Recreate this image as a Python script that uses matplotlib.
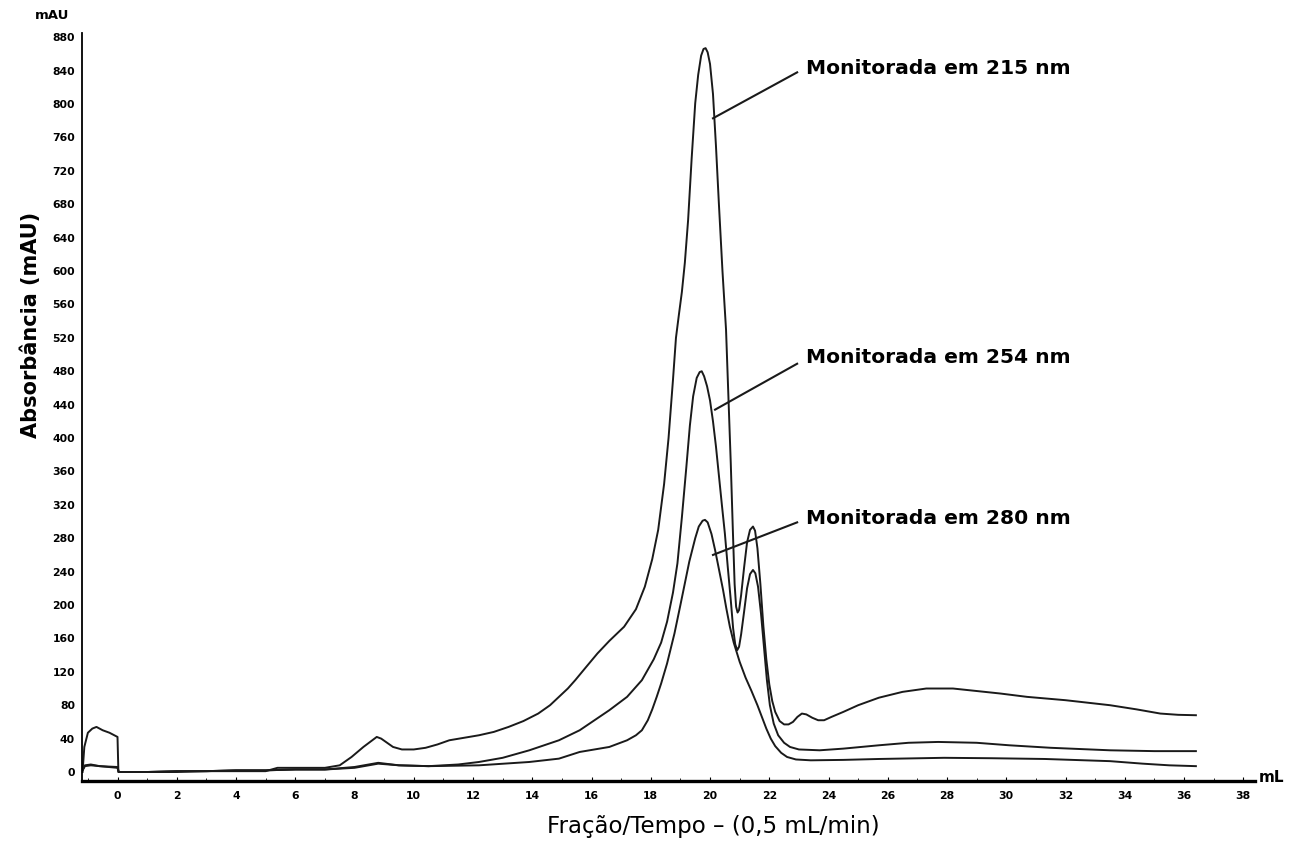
import matplotlib
matplotlib.use("Agg")
import matplotlib.pyplot as plt
from matplotlib.ticker import MultipleLocator

# ---- data ----
x215 = [-1.18, -1.12, -1.0, -0.85, -0.71, -0.5, -0.27, 0.0, 0.03, 1, 2, 3, 4, 5, 5.4, 6, 7, 7.5,
        7.9, 8.3, 8.6, 8.75, 8.9, 9.1, 9.3, 9.6, 10.0, 10.4, 10.8, 11.2, 11.7, 12.2, 12.7,
        13.2, 13.7, 14.2, 14.6, 14.9, 15.2, 15.45, 15.8, 16.2, 16.6, 17.1, 17.5, 17.8, 18.05,
        18.25, 18.45, 18.6, 18.75, 18.85, 18.95, 19.05, 19.15, 19.26, 19.38, 19.5, 19.6, 19.7,
        19.78, 19.85, 19.92, 20.0, 20.1, 20.2, 20.3, 20.42, 20.54, 20.62, 20.7, 20.77, 20.83,
        20.88, 20.93, 20.98, 21.05, 21.15, 21.25, 21.35, 21.45, 21.52, 21.6, 21.7, 21.8, 21.9,
        22.0, 22.1, 22.2, 22.35, 22.5, 22.65, 22.8, 22.95, 23.1, 23.25, 23.45, 23.65, 23.85,
        24.1, 24.5, 25.0, 25.7, 26.5, 27.3, 28.2, 29.0, 29.8, 30.7, 32.0, 33.5, 34.4, 35.2,
        35.8, 36.4]
y215 = [0, 30, 47, 52, 54, 50, 47, 42, 0, 0, 0, 1, 1, 1, 5, 5, 5, 8,
        18, 30, 38, 42, 40, 35, 30, 27, 27, 29, 33, 38, 41, 44, 48,
        54, 61, 70, 80, 90, 100, 110, 125, 142, 157, 174, 195, 222, 255,
        290, 345, 400, 470, 520, 548, 575, 610, 661, 735, 801, 835, 858,
        866, 867, 862, 848, 812, 750, 680, 600, 530, 450, 370, 290, 225,
        198, 191, 194, 212, 245, 275, 290, 294, 289, 268, 225, 175, 135,
        105, 85, 72, 61, 57, 57, 60, 66, 70, 69, 65, 62, 62,
        66, 72, 80, 89, 96, 100, 100, 97, 94, 90, 86, 80, 75, 70,
        68.5, 68]

x254 = [-1.18, -1.1, -0.9, -0.6, 0.0, 0.04, 1, 2, 3, 4, 5, 6, 7, 8, 8.8, 9.5, 10.5, 11.5,
        12.2, 13.0, 13.9, 14.9, 15.6, 16.6, 17.2, 17.7, 18.1, 18.35, 18.55, 18.75, 18.9, 19.05,
        19.2, 19.32, 19.43, 19.55, 19.65, 19.72, 19.8, 19.9, 20.0, 20.1, 20.2, 20.3, 20.4,
        20.5, 20.6, 20.7, 20.78, 20.85, 20.92, 20.98, 21.05, 21.15, 21.25, 21.35, 21.45, 21.53,
        21.62, 21.72, 21.82, 21.92, 22.02, 22.15, 22.3, 22.5, 22.7, 23.0, 23.7, 24.5, 25.7,
        26.7, 27.7, 29.0, 30.1, 31.5, 33.5, 35.0, 36.4]
y254 = [2, 8, 9, 7, 6, 0, 0, 1, 1, 2, 2, 3, 3, 6, 11, 8, 7, 9,
        12, 17, 26, 38, 50, 74, 90, 110, 135, 155, 180, 215, 250, 305,
        365, 415, 450, 472, 479, 480, 474, 462, 445, 420, 390, 355, 320,
        286, 245, 206, 172, 153, 146, 150, 165, 192, 220, 237, 242, 238,
        222, 190, 150, 110, 80, 58, 44, 35, 30, 27, 26, 28, 32,
        35, 36, 35, 32, 29, 26, 25, 25]

x280 = [-1.18, -1.1, -0.9, -0.6, 0.0, 0.04, 1, 2, 3, 4, 5, 6, 7, 8, 8.8, 9.5, 10.5, 12.2,
        13.9, 14.9, 15.6, 16.6, 17.2, 17.5, 17.7, 17.9, 18.05, 18.2, 18.35, 18.55, 18.8, 19.0,
        19.15, 19.3, 19.5, 19.62, 19.75, 19.83, 19.92, 20.05, 20.17, 20.3, 20.44, 20.55, 20.67,
        20.8, 21.0, 21.2, 21.4, 21.6, 21.75, 21.9, 22.05, 22.2, 22.4, 22.6, 22.9, 23.4, 24.5,
        25.7, 27.9, 29.5, 31.3, 33.5, 34.6, 35.5, 36.4]
y280 = [2, 7, 8, 7, 5, 0, 0, 1, 1, 2, 2, 3, 3, 5, 10, 8, 7, 8,
        12, 16, 24, 30, 38, 44, 50, 62, 75, 90, 106, 130, 166, 200,
        226, 252, 280, 294, 301, 302, 299, 285, 266, 243, 218, 196, 174,
        155, 132, 113, 97, 80, 66, 52, 40, 31, 23, 18, 15, 14, 14.5,
        15.6, 17, 16.5, 15.6, 13, 10, 8, 7]

labels = ["Monitorada em 215 nm", "Monitorada em 254 nm", "Monitorada em 280 nm"]
yticks = list(range(0, 881, 40))
xticks = list(range(0, 39, 2))

fig = plt.figure(figsize=(13.05, 8.47), dpi=100)
ax = fig.add_axes([0.0628, 0.0779, 0.899, 0.883])

for xs, ys in [(x215, y215), (x254, y254), (x280, y280)]:
    ax.plot(xs, ys, color="#1a1a1a", lw=1.4, solid_joinstyle="round")

ax.set_xlim(-1.2, 38.4)
ax.set_ylim(-10.8, 885)
ax.set_xticks(xticks)
ax.xaxis.set_minor_locator(MultipleLocator(1))
ax.set_yticks(yticks)
ax.tick_params(axis="both", which="both", labelsize=7.8)
ax.tick_params(axis="x", which="major", length=3, direction="in", pad=7)
ax.tick_params(axis="x", which="minor", length=2, direction="in")
ax.tick_params(axis="y", length=0, pad=5)
for lab in ax.get_xticklabels() + ax.get_yticklabels():
    lab.set_fontweight("bold")

for s in ["top", "right"]:
    ax.spines[s].set_visible(False)
ax.spines["left"].set_linewidth(1.3)
ax.spines["bottom"].set_linewidth(2.4)

# annotations
ann = [(labels[0], (22.94, 838), (20.1, 783), 843),
       (labels[1], (22.94, 489), (20.17, 434), 496),
       (labels[2], (22.94, 299), (20.1, 260), 304)]
for txt, p0, p1, ty in ann:
    ax.plot([p0[0], p1[0]], [p0[1], p1[1]], color="#1a1a1a", lw=1.5)
    ax.text(23.25, ty, txt, fontsize=14.6, fontweight="bold", va="center", ha="left")

fig.text(0.027, 0.982, "mAU", fontsize=9.5, fontweight="bold", ha="left", va="center")
fig.text(0.9645, 0.0815, "mL", fontsize=11, fontweight="bold", ha="left", va="center")
fig.text(0.0235, 0.616, "Absorbância (mAU)", fontsize=15, fontweight="bold",
         rotation=90, ha="center", va="center")
fig.text(0.5464, 0.024, "Fração/Tempo – (0,5 mL/min)", fontsize=16.5,
         ha="center", va="center")

fig.savefig("out.png", dpi=100, facecolor="white")
